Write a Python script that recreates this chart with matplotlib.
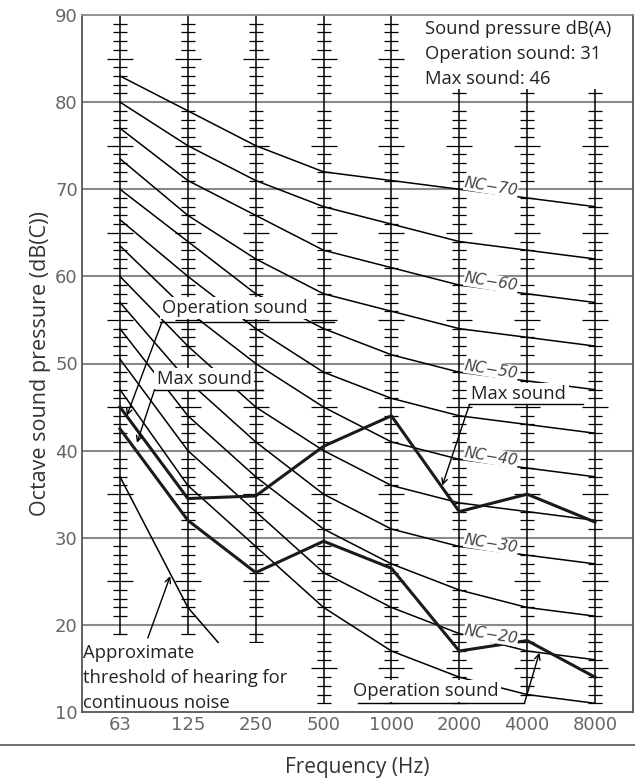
import matplotlib
matplotlib.use("Agg")
import matplotlib.pyplot as plt
from matplotlib.lines import Line2D
import numpy as np

# octave band centre frequencies (Hz)
freqs = ["63", "125", "250", "500", "1000", "2000", "4000", "8000"]

# NC curves, values per octave band (dB)
nc_levels = [15, 20, 25, 30, 35, 40, 45, 50, 55, 60, 65, 70]
nc_curves = {
    15: [47, 36, 29, 22, 17, 14, 12, 11],
    20: [50.5, 40, 33, 26, 22, 19, 17, 16],
    25: [54, 44, 37, 31, 27, 24, 22, 21],
    30: [57, 48, 41, 35, 31, 29, 28, 27],
    35: [60, 52, 45, 40, 36, 34, 33, 32],
    40: [63.5, 56, 50, 45, 41, 39, 38, 37],
    45: [66.5, 60, 54, 49, 46, 44, 43, 42],
    50: [70, 64, 58, 54, 51, 49, 48, 47],
    55: [73.5, 67, 62, 58, 56, 54, 53, 52],
    60: [77, 71, 67, 63, 61, 59, 58, 57],
    65: [80, 75, 71, 68, 66, 64, 63, 62],
    70: [83, 79, 75, 72, 71, 70, 69, 68],
}
nc_labelled = [20, 30, 40, 50, 60, 70]

# measured spectra
max_sound = [45, 34.5, 34.8, 40.5, 44, 33, 35, 31.8]
operation_sound = [42.5, 32, 26, 29.6, 26.5, 17, 18.2, 14]

# approximate threshold of hearing (63, 125, 250 Hz)
threshold = [37, 22, 13]

# drawn range of each frequency scale line (dB)
scale_lo = [19, 19, 18, 11, 11, 11, 12, 11]
scale_hi = [90, 90, 90, 90, 90, 82, 82, 82]

sound_a = {"Operation sound": 31, "Max sound": 46}

TXT_FONT = ["Open Sans", "DejaVu Sans"]
TXT_SIZE = 13.2
NUM_COLOR = "#666666"

fig = plt.figure(figsize=(6.35, 7.8), dpi=100)
ax = fig.add_axes([82 / 635, 1 - 712 / 780, 551 / 635, 697 / 780])
x = np.arange(len(freqs))
ax.set_xlim(-0.56, len(freqs) - 1 + 0.56)
ax.set_ylim(10, 90)

# horizontal grid
for g in range(20, 90, 10):
    ax.axhline(g, color="#8a8a8a", lw=1.5, zorder=1)

# frequency scale lines with 1 dB ticks
px = 1 / 68.0
for i in x:
    ax.vlines(i, scale_lo[i], scale_hi[i], color="black", lw=1.1, zorder=2)
    for d in range(int(np.ceil(scale_lo[i])), int(scale_hi[i]) + 1):
        if d % 10 == 0:
            continue
        w = 13 * px if d % 5 == 0 else 7 * px
        ax.hlines(d, i - w, i + w, color="black", lw=0.9, zorder=2)

# NC curves
for lv in nc_levels:
    ax.plot(x, nc_curves[lv], color="black", lw=1.1, zorder=3)

# label the NC curves just right of the 2000 Hz line
lx = 5.47
for lv in nc_labelled:
    ly = np.interp(lx, x, nc_curves[lv]) + 0.8
    ax.text(lx, ly, "NC\u2212%d" % lv, fontsize=11, style="italic", color="#444444",
            rotation=-9, ha="center", va="center", zorder=5,
            bbox=dict(boxstyle="square,pad=0.02", fc="white", ec="none"))

# threshold of hearing
ax.plot(x[:3], threshold, color="black", lw=1.1, zorder=3)

# measured spectra
ax.plot(x, max_sound, color="#1a1a1a", lw=2.2, zorder=4)
ax.plot(x, operation_sound, color="#1a1a1a", lw=2.2, zorder=4)


def label(txt, tx, ty, ux0, ux1, uy, tip, start):
    ax.text(tx, ty, txt, fontsize=TXT_SIZE, family=TXT_FONT, color="#222222",
            ha="left", va="center", zorder=6,
            bbox=dict(boxstyle="square,pad=0.12", fc="white", ec="none"))
    ax.plot([ux0, ux1], [uy, uy], color="black", lw=1.0, zorder=6)
    ax.annotate("", xy=tip, xytext=start, zorder=6,
                arrowprops=dict(arrowstyle="->", color="black", lw=1.0,
                                shrinkA=0, shrinkB=0, mutation_scale=10))


label("Operation sound", 0.62, 56.4, 0.59, 3.16, 54.8, (0.10, 44.0), (0.62, 54.8))
label("Max sound", 0.54, 48.2, 0.51, 2.10, 47.0, (0.25, 40.9), (0.51, 47.0))
label("Max sound", 5.18, 46.5, 5.15, 6.82, 45.3, (4.75, 36.0), (5.15, 45.3))
label("Operation sound", 3.43, 12.4, 3.50, 5.96, 11.0, (6.18, 16.8), (5.96, 11.0))

# threshold label
ax.text(-0.54, 13.9, "Approximate\nthreshold of hearing for\ncontinuous noise",
        fontsize=TXT_SIZE, family=TXT_FONT, color="#222222", ha="left", va="center",
        linespacing=1.5, zorder=6,
        bbox=dict(boxstyle="square,pad=0.05", fc="white", ec="none"))
ax.annotate("", xy=(0.74, 25.6), xytext=(0.41, 18.5), zorder=6,
            arrowprops=dict(arrowstyle="->", color="black", lw=1.0,
                            shrinkA=0, shrinkB=0, mutation_scale=10))

# A-weighted summary
summary = "Sound pressure dB(A)\n" + "\n".join(
    "%s: %d" % (k, v) for k, v in sound_a.items())
ax.text(4.49, 85.5, summary, fontsize=TXT_SIZE, family=TXT_FONT, color="#222222",
        ha="left", va="center", linespacing=1.5, zorder=6,
        bbox=dict(boxstyle="square,pad=0.05", fc="white", ec="none"))

# axes cosmetics
ax.set_xticks(x)
ax.set_xticklabels(freqs)
ax.set_yticks(range(10, 100, 10))
ax.tick_params(length=0, labelsize=13, colors=NUM_COLOR, pad=3)
for s in ax.spines.values():
    s.set_color("#555555")
    s.set_linewidth(1.3)
    s.set_zorder(7)
ax.spines["top"].set_color("#8a8a8a")

ax.set_ylabel("Octave sound pressure (dB(C))", fontsize=15.5, family=TXT_FONT,
              color="#333333", labelpad=3)
fig.text(357 / 635, 1 - 767 / 780, "Frequency (Hz)", fontsize=15, family=TXT_FONT,
         color="#333333", ha="center", va="center")
fig.add_artist(Line2D([0, 1], [1 - 745 / 780] * 2, transform=fig.transFigure,
                      color="#555555", lw=1.2))

fig.savefig("out.png", dpi=100)
